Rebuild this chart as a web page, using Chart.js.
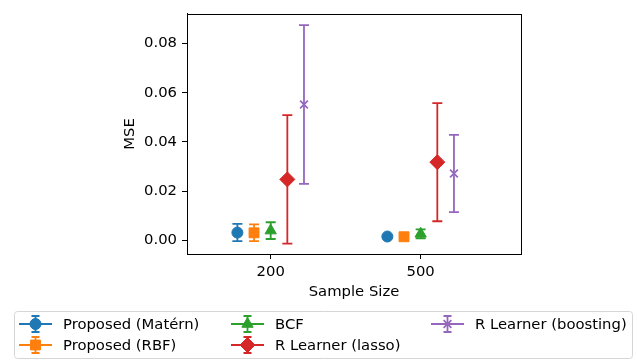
<!DOCTYPE html>
<html>
<head>
<meta charset="utf-8">
<script src="https://cdn.jsdelivr.net/npm/chart.js@4"></script>
<style>
  html, body { margin: 0; padding: 0; background: #fff; }
  #wrap { width: 637px; height: 360px; }
</style>
</head>
<body>
<div id="wrap"><canvas id="chart" width="637" height="360"></canvas></div>
<script>
const sampleSizes = [200, 500];
const seriesNames = ['Proposed (Matérn)', 'Proposed (RBF)', 'BCF', 'R Learner (lasso)', 'R Learner (boosting)'];
const yTicks = [0.00, 0.02, 0.04, 0.06, 0.08];

// mean MSE and error (half width) per sample size
const mseMatern = [0.0032, 0.0016];
const errMatern = [0.0035, 0.0006];
const mseRbf = [0.0031, 0.0015];
const errRbf = [0.0034, 0.0005];
const mseBcf = [0.0040, 0.0027];
const errBcf = [0.0034, 0.0018];
const mseLasso = [0.0248, 0.0318];
const errLasso = [0.0261, 0.0240];
const mseBoost = [0.0552, 0.0272];
const errBoost = [0.0322, 0.0157];

const means = [mseMatern, mseRbf, mseBcf, mseLasso, mseBoost];
const errs = [errMatern, errRbf, errBcf, errLasso, errBoost];
const colors = ['#1f77b4', '#ff7f0e', '#2ca02c', '#d62728', '#9467bd'];
const styles = ['circle', 'rect', 'triangle', 'rectRot', 'crossRot'];
const radii = [5.5, 7, 6.5, 7.5, 5.5];
const dodge = 0.111;
const FONT = "'DejaVu Sans', sans-serif";
const FS = 14.8;

const datasets = seriesNames.map((name, i) => ({
    label: name,
    data: sampleSizes.map((s, j) => ({ x: j + (i - 2) * dodge, y: means[i][j], err: errs[i][j] })),
    showLine: false,
    backgroundColor: colors[i],
    borderColor: colors[i],
    pointStyle: styles[i],
    pointRadius: radii[i],
    pointHoverRadius: radii[i],
    pointBorderWidth: styles[i] === 'crossRot' ? 1.7 : 1
}));

// error bars, drawn under the markers
const errorBars = {
    id: 'errorBars',
    beforeDatasetsDraw(chart) {
        const ctx = chart.ctx;
        const yScale = chart.scales.y;
        ctx.save();
        chart.data.datasets.forEach((ds, i) => {
            const meta = chart.getDatasetMeta(i);
            ctx.strokeStyle = ds.borderColor;
            ctx.lineWidth = 1.8;
            ds.data.forEach((p, j) => {
                const x = meta.data[j].x;
                const top = yScale.getPixelForValue(p.y + p.err);
                const bot = yScale.getPixelForValue(p.y - p.err);
                ctx.beginPath();
                ctx.moveTo(x, top); ctx.lineTo(x, bot);
                ctx.moveTo(x - 5, top); ctx.lineTo(x + 5, top);
                ctx.moveTo(x - 5, bot); ctx.lineTo(x + 5, bot);
                ctx.stroke();
            });
        });
        ctx.restore();
    }
};

// axes box + legend in matplotlib style
const frameAndLegend = {
    id: 'frameAndLegend',
    afterDraw(chart) {
        const ctx = chart.ctx;
        const a = chart.chartArea;
        ctx.save();
        ctx.strokeStyle = '#000';
        ctx.lineWidth = 1;
        ctx.strokeRect(Math.round(a.left) + 0.5, Math.round(a.top) + 0.5, Math.round(a.right - a.left), Math.round(a.bottom - a.top));

        // legend frame
        ctx.strokeStyle = '#d6d6d6';
        ctx.beginPath();
        ctx.roundRect(14.5, 311.5, 618, 47, 3);
        ctx.stroke();

        const colX = [19, 231, 431];
        const rowY = [324, 345];
        ctx.font = FS + 'px ' + FONT;
        ctx.textBaseline = 'middle';
        chart.data.datasets.forEach((ds, i) => {
            const x0 = colX[Math.floor(i / 2)];
            const y = rowY[i % 2];
            const xm = x0 + 16.5;
            ctx.strokeStyle = ds.borderColor;
            ctx.fillStyle = ds.borderColor;
            ctx.lineWidth = 1.8;
            ctx.beginPath();
            ctx.moveTo(x0, y); ctx.lineTo(x0 + 33, y);
            ctx.moveTo(xm, y - 8); ctx.lineTo(xm, y + 8);
            ctx.moveTo(xm - 4, y - 8); ctx.lineTo(xm + 4, y - 8);
            ctx.moveTo(xm - 4, y + 8); ctx.lineTo(xm + 4, y + 8);
            ctx.stroke();
            ctx.lineWidth = ds.pointBorderWidth;
            Chart.helpers.drawPoint(ctx, {
                pointStyle: ds.pointStyle, radius: ds.pointRadius, rotation: 0, borderWidth: ds.pointBorderWidth
            }, xm, y);
            ctx.fillStyle = '#000';
            ctx.fillText(ds.label, x0 + 44, y + 1);
        });
        ctx.restore();
    }
};

new Chart(document.getElementById('chart'), {
    type: 'scatter',
    data: { datasets: datasets },
    plugins: [errorBars, frameAndLegend],
    options: {
        responsive: false,
        animation: false,
        layout: { padding: { left: 121, right: 116, top: 7, bottom: 59 } },
        plugins: { legend: { display: false }, tooltip: { enabled: false } },
        scales: {
            x: {
                type: 'linear',
                min: -0.558,
                max: 1.669,
                afterBuildTicks: s => { s.ticks = sampleSizes.map((v, j) => ({ value: j })); },
                afterFit: s => { s.height = 47; },
                ticks: {
                    callback: v => sampleSizes[v],
                    color: '#000',
                    padding: 4,
                    maxRotation: 0,
                    font: { family: FONT, size: FS }
                },
                grid: { drawOnChartArea: false, tickLength: 5, tickColor: '#000' },
                border: { color: '#000' },
                title: { display: true, text: 'Sample Size', color: '#000', padding: 0, font: { family: FONT, size: FS } }
            },
            y: {
                min: -0.0055,
                max: 0.092,
                afterBuildTicks: s => { s.ticks = yTicks.map(v => ({ value: v })); },
                afterFit: s => { s.width = 66; },
                ticks: {
                    callback: v => v.toFixed(2),
                    color: '#000',
                    padding: 5,
                    font: { family: FONT, size: FS }
                },
                grid: { drawOnChartArea: false, tickLength: 5, tickColor: '#000' },
                border: { color: '#000' },
                title: { display: true, text: 'MSE', color: '#000', padding: 0, font: { family: FONT, size: FS } }
            }
        }
    }
});
</script>
</body>
</html>
